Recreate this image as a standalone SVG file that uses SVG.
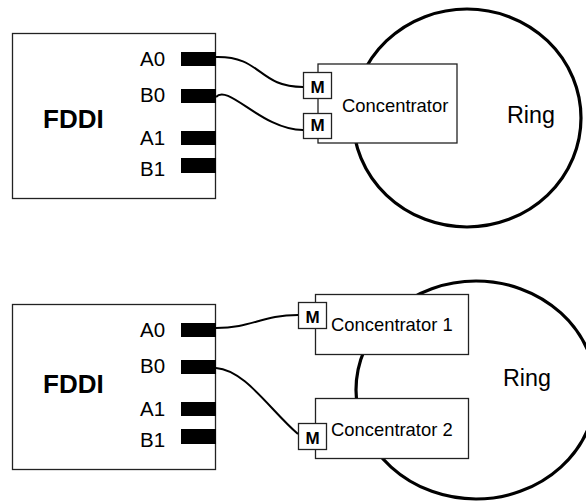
<svg xmlns="http://www.w3.org/2000/svg" width="586" height="502" viewBox="0 0 586 502">
<style>
text{font-family:"Liberation Sans",Arial,sans-serif;fill:#000}
.box{fill:#fff;stroke:#222;stroke-width:1.3}
.port{fill:#000}
.ring{fill:none;stroke:#000;stroke-width:3.2}
.wire{fill:none;stroke:#000;stroke-width:2}
.lbl{font-size:20.5px}
.title{font-size:26px;font-weight:bold}
.conc{font-size:18.4px}
.m{font-size:17px;font-weight:bold;text-anchor:middle}
.ringt{font-size:23.3px}
</style>

<g id="ring-top"><ellipse class="ring" cx="467" cy="118" rx="114" ry="109"/><text class="ringt" x="507" y="123">Ring</text></g>
<g id="ring-bottom"><ellipse class="ring" cx="476" cy="390" rx="120" ry="109"/><text class="ringt" x="503" y="386">Ring</text></g>

<g id="fddi-top">
<rect class="box" x="12.5" y="33.5" width="203" height="165"/>
<text class="title" x="43" y="128">FDDI</text>
<text class="lbl" x="140" y="66">A0</text>
<text class="lbl" x="140" y="102">B0</text>
<text class="lbl" x="140" y="145">A1</text>
<text class="lbl" x="140" y="176">B1</text>
<rect class="port" x="181" y="52" width="35" height="14"/>
<rect class="port" x="181" y="89" width="35" height="14"/>
<rect class="port" x="181" y="131" width="35" height="14"/>
<rect class="port" x="181" y="158" width="35" height="15"/>
</g>

<g id="concentrator-top">
<rect class="box" x="318" y="64" width="139" height="79"/>
<text class="conc" x="342" y="112">Concentrator</text>
<rect class="box" x="303.5" y="72.5" width="28" height="26"/>
<text class="m" x="317.5" y="93">M</text>
<rect class="box" x="303.5" y="113.5" width="28" height="25"/>
<text class="m" x="317.5" y="131">M</text>
</g>

<g id="fddi-bottom">
<rect class="box" x="12.5" y="304.5" width="203" height="165"/>
<text class="title" x="43" y="393">FDDI</text>
<text class="lbl" x="140" y="337">A0</text>
<text class="lbl" x="140" y="373">B0</text>
<text class="lbl" x="140" y="416">A1</text>
<text class="lbl" x="140" y="447">B1</text>
<rect class="port" x="181" y="323" width="35" height="14"/>
<rect class="port" x="181" y="360" width="35" height="14"/>
<rect class="port" x="181" y="402" width="35" height="14"/>
<rect class="port" x="181" y="429" width="35" height="15"/>
</g>

<g id="concentrator-1">
<rect class="box" x="315.5" y="294.5" width="153" height="60"/>
<text class="conc" x="331" y="331">Concentrator 1</text>
<rect class="box" x="298.5" y="302.5" width="28" height="26"/>
<text class="m" x="312.5" y="323">M</text>
</g>

<g id="concentrator-2">
<rect class="box" x="315.5" y="398.5" width="153" height="60"/>
<text class="conc" x="331" y="436">Concentrator 2</text>
<rect class="box" x="298.5" y="423.5" width="28" height="26"/>
<text class="m" x="312.5" y="444">M</text>
</g>

<g id="connectors">
<path class="wire" d="M216,57 C262,56 258,87 303,87"/>
<path class="wire" d="M216,97 C228,83 262,130 303,130"/>
<path class="wire" d="M216,328 C252,328 262,315 298,315"/>
<path class="wire" d="M216,368 C245,370 270,410 298,434"/>
</g>
</svg>
